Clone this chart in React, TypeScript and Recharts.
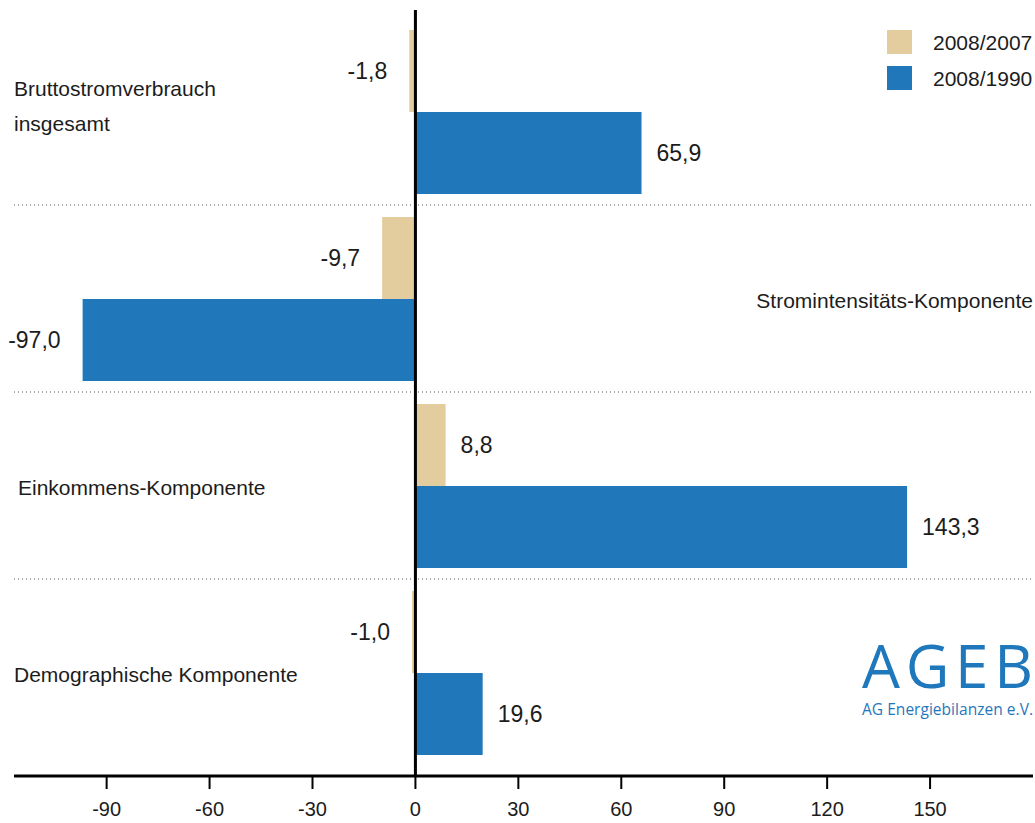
import React from 'react';
import {
    BarChart,
    Bar,
    XAxis,
    YAxis,
    CartesianGrid,
    ReferenceLine,
    LabelList,
} from 'recharts';

// Zerlegung der Veränderung des Bruttostromverbrauchs (in TWh)
const categories = [
    'Bruttostromverbrauch insgesamt',
    'Stromintensitäts-Komponente',
    'Einkommens-Komponente',
    'Demographische Komponente',
];
const change0807 = [-1.8, -9.7, 8.8, -1.0];
const change0890 = [65.9, -97.0, 143.3, 19.6];
const xTicks = [-90, -60, -30, 0, 30, 60, 90, 120, 150];

const seriesNames = ['2008/2007', '2008/1990'];
const seriesColors = ['#E3CC9E', '#2077BA'];

const data = categories.map((name, i) => ({
    name,
    d07: change0807[i],
    d90: change0890[i],
}));

const FONT = '"Liberation Sans", Arial, sans-serif';
const TEXT = '#1c1c1c';

const fmt = (v: number) => v.toFixed(1).replace('.', ',');

// value next to the end of each bar, on the outside
const ValueLabel = (props: any) => {
    const { x, y, width, height, value } = props;
    const left = Math.min(x, x + width);
    const right = Math.max(x, x + width);
    const neg = value < 0;
    return (
        <text
            x={neg ? left - 22 : right + 15}
            y={y + height / 2}
            dy={8}
            textAnchor={neg ? 'end' : 'start'}
            fontFamily={FONT}
            fontSize={23}
            fill={TEXT}
        >
            {fmt(value)}
        </text>
    );
};

// category names: left side, or right side where the long bar points left
const CategoryTick = (props: any) => {
    const { y, payload, index } = props;
    const right = change0890[index] < 0;
    const name = String(payload.value);
    const lines = name.startsWith('Brutto') ? name.split(' ') : [name];
    const x = right ? 1033 : 14;
    return (
        <g>
            {lines.map((line, i) => (
                <text
                    key={i}
                    x={index === 2 ? x + 4 : x}
                    y={lines.length > 1 ? y - 16 + i * 35 : y + 9}
                    textAnchor={right ? 'end' : 'start'}
                    fontFamily={FONT}
                    fontSize={21}
                    fill={TEXT}
                >
                    {line}
                </text>
            ))}
        </g>
    );
};

// dotted separators between the category bands
const bandLines = (props: any) => {
    const off = props.offset || {};
    const top = (off.top ?? 10) + 8;
    const h = (off.height ?? 766) - 18;
    const step = h / categories.length;
    return [1, 2, 3].map((i) => top + step * i);
};

const App = () => {
    return (
        <div style={{ position: 'absolute', left: 0, top: 0, width: 1035, height: 823, background: '#fff' }}>
            <BarChart
                width={1035}
                height={823}
                data={data}
                layout="vertical"
                margin={{ top: 10, right: 2, left: 13, bottom: 7 }}
                barCategoryGap={12}
                barGap={0}
            >
                <CartesianGrid
                    vertical={false}
                    stroke="#555"
                    strokeDasharray="1 3"
                    horizontalCoordinatesGenerator={bandLines}
                />
                <XAxis
                    type="number"
                    domain={[-117, 180]}
                    ticks={xTicks}
                    allowDataOverflow
                    height={40}
                    axisLine={{ stroke: '#000', strokeWidth: 3 }}
                    tickLine={{ stroke: '#000', strokeWidth: 2 }}
                    tickSize={13}
                    tickMargin={13}
                    tick={{ fontFamily: FONT, fontSize: 20, fill: TEXT }}
                />
                <YAxis
                    type="category"
                    dataKey="name"
                    width={1}
                    interval={0}
                    axisLine={false}
                    tickLine={false}
                    padding={{ top: 8, bottom: 10 }}
                    tick={CategoryTick}
                />
                <Bar dataKey="d07" name={seriesNames[0]} fill={seriesColors[0]} isAnimationActive={false}>
                    <LabelList dataKey="d07" content={<ValueLabel />} />
                </Bar>
                <Bar dataKey="d90" name={seriesNames[1]} fill={seriesColors[1]} isAnimationActive={false}>
                    <LabelList dataKey="d90" content={<ValueLabel />} />
                </Bar>
                <ReferenceLine x={0} stroke="#000" strokeWidth={3} />
            </BarChart>

            <svg
                width={1035}
                height={823}
                style={{ position: 'absolute', left: 0, top: 0, pointerEvents: 'none' }}
            >
                {seriesNames.map((s, i) => (
                    <g key={s}>
                        <rect x={887} y={30 + i * 36} width={25} height={24} fill={seriesColors[i]} />
                        <text x={933} y={50 + i * 36} fontFamily={FONT} fontSize={21} fill={TEXT}>
                            {s}
                        </text>
                    </g>
                ))}
                <text
                    x={862}
                    y={688}
                    fontFamily='"Open Sans", sans-serif'
                    fontSize={60}
                    fill="#1F77BC"
                    textLength={171}
                    lengthAdjust="spacing"
                >
                    AGEB
                </text>
                <text
                    x={862}
                    y={715}
                    fontFamily='"Open Sans", sans-serif'
                    fontSize={15.5}
                    fill="#1F77BC"
                    textLength={171}
                    lengthAdjust="spacing"
                >
                    AG Energiebilanzen e.V.
                </text>
            </svg>
        </div>
    );
};

export default App;
